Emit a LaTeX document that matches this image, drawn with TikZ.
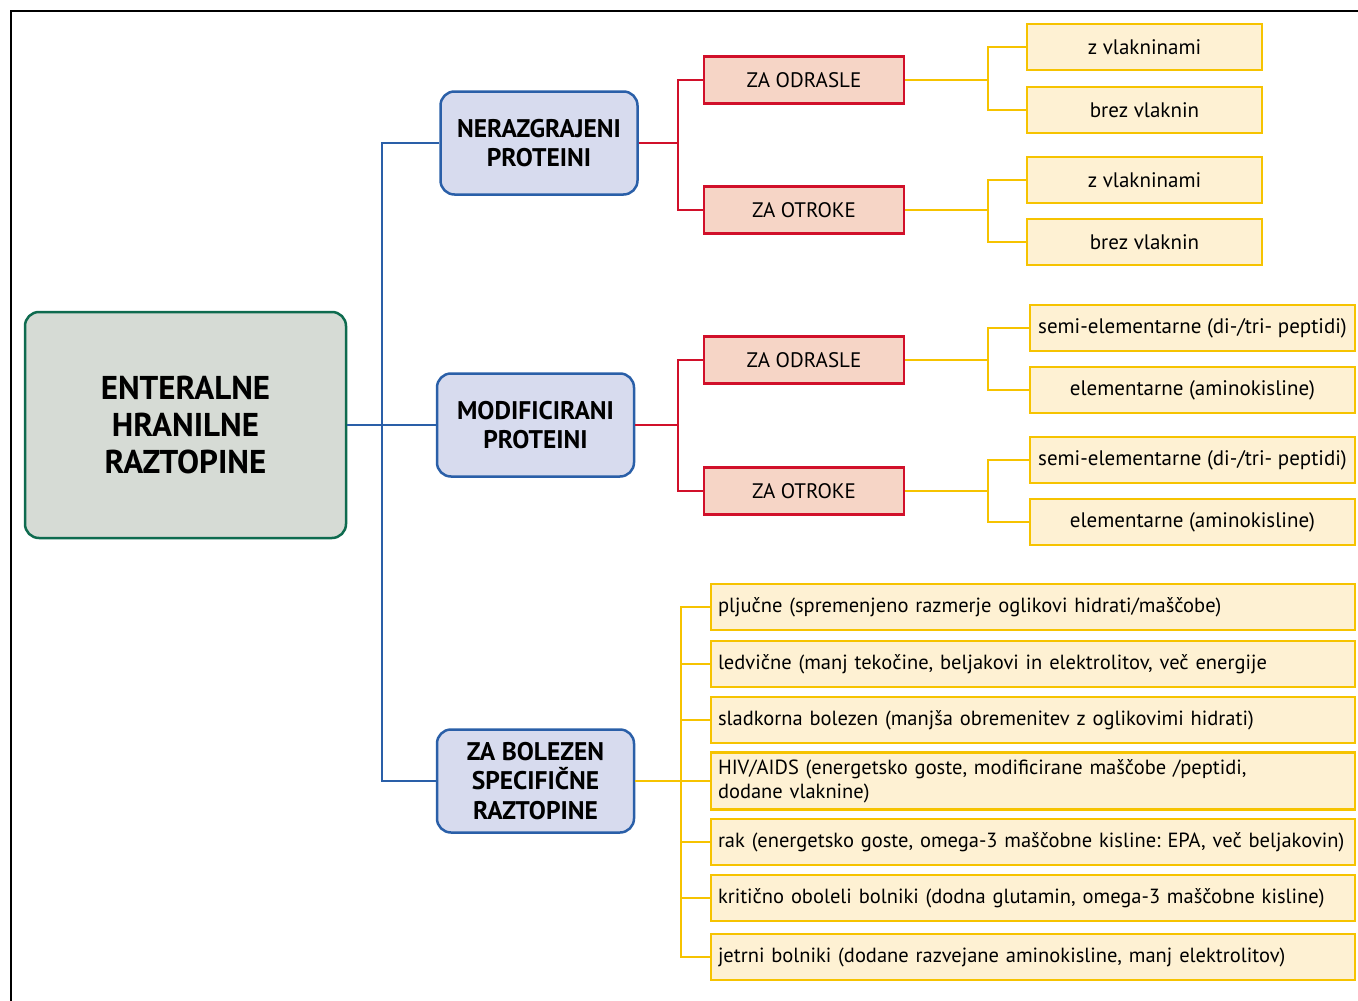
\documentclass[tikz,border=0pt]{standalone}
\usepackage{fontspec}
\setmainfont{PT Sans}
\usepackage{tikz}
\usetikzlibrary{calc}

\definecolor{rootfill}{HTML}{D6DBD5}
\definecolor{rootline}{HTML}{0E6B4F}
\definecolor{grpfill}{HTML}{D7DBEE}
\definecolor{grpline}{HTML}{2A5FA8}
\definecolor{agefill}{HTML}{F6D5C6}
\definecolor{ageline}{HTML}{D1102A}
\definecolor{kindfill}{HTML}{FEF1D3}
\definecolor{kindline}{HTML}{F6C300}

\begin{document}
\frenchspacing
\hyphenpenalty=10000
\begin{tikzpicture}[x=1pt, y=-1pt,
        root/.style={draw=rootline, fill=rootfill, line width=2.5pt, rounded corners=14pt, minimum width=321pt, minimum height=226pt, align=center, font=\fontsize{33}{37}\selectfont\bfseries},
        group/.style={draw=grpline, fill=grpfill, line width=2.5pt, rounded corners=14pt, minimum width=197pt, minimum height=103pt, align=center, font=\fontsize{25.5}{29.5}\selectfont\bfseries},
        age/.style={draw=ageline, fill=agefill, line width=2.5pt, minimum width=200pt, minimum height=47pt, font=\fontsize{21}{25}\selectfont},
        kind/.style={draw=kindline, fill=kindfill, line width=2.5pt, minimum height=46pt, font=\fontsize{21}{25}\selectfont},
        ill/.style={kind, text width=630pt, inner xsep=7pt, align=left, font=\fontsize{20.5}{24}\selectfont},
        bline/.style={draw=grpline, line width=2.5pt},
        rline/.style={draw=ageline, line width=2.5pt},
        yline/.style={draw=kindline, line width=2.5pt}]
        \useasboundingbox (0, 0) rectangle (1358, 1001);
        \draw [line width=2.5pt] (1358, 11) -- (11, 11) -- (11, 1001);

        % main box and the three groups
        \node (enteral) [root] at (185.5, 425) {ENTERALNE\\HRANILNE\\RAZTOPINE};
        \node (nerazg) [group] at (539, 143) {NERAZGRAJENI\\PROTEINI};
        \node (modif) [group] at (535.5, 425) {MODIFICIRANI\\PROTEINI};
        \node (bolez) [group] at (535.5, 781) {ZA BOLEZEN\\SPECIFIČNE\\RAZTOPINE};

        \coordinate (trunk) at (382, 425);
        \draw [bline] (enteral.east) -- (modif.west);
        \draw [bline] (trunk) |- (nerazg.west);
        \draw [bline] (trunk) |- (bolez.west);

        % nerazgrajeni proteini
        \node (ner odr) [age] at (804, 80) {ZA ODRASLE};
        \node (ner otr) [age] at (804, 210) {ZA OTROKE};
        \coordinate (ner j) at (678, 143);
        \draw [rline] (nerazg.east) -- (ner j) |- (ner odr.west);
        \draw [rline] (ner j) |- (ner otr.west);

        \node (odr z) [kind, minimum width=235pt] at (1144.5, 47) {z vlakninami};
        \node (odr brez) [kind, minimum width=235pt] at (1144.5, 110) {brez vlaknin};
        \coordinate (odr j) at (988, 80);
        \draw [yline] (ner odr.east) -- (odr j) |- (odr z.west);
        \draw [yline] (odr j) |- (odr brez.west);

        \node (otr z) [kind, minimum width=235pt] at (1144.5, 180) {z vlakninami};
        \node (otr brez) [kind, minimum width=235pt] at (1144.5, 242) {brez vlaknin};
        \coordinate (otr j) at (988, 210);
        \draw [yline] (ner otr.east) -- (otr j) |- (otr z.west);
        \draw [yline] (otr j) |- (otr brez.west);

        % modificirani proteini
        \node (mod odr) [age] at (804, 360) {ZA ODRASLE};
        \node (mod otr) [age] at (804, 491) {ZA OTROKE};
        \coordinate (mod j) at (678, 425);
        \draw [rline] (modif.east) -- (mod j) |- (mod odr.west);
        \draw [rline] (mod j) |- (mod otr.west);

        \node (modo semi) [kind, minimum width=325pt] at (1192.5, 328) {semi-elementarne (di-/tri- peptidi)};
        \node (modo elem) [kind, minimum width=325pt] at (1192.5, 390) {elementarne (aminokisline)};
        \coordinate (modo j) at (988, 360);
        \draw [yline] (mod odr.east) -- (modo j) |- (modo semi.west);
        \draw [yline] (modo j) |- (modo elem.west);

        \node (modt semi) [kind, minimum width=325pt] at (1192.5, 460) {semi-elementarne (di-/tri- peptidi)};
        \node (modt elem) [kind, minimum width=325pt] at (1192.5, 522) {elementarne (aminokisline)};
        \coordinate (modt j) at (988, 491);
        \draw [yline] (mod otr.east) -- (modt j) |- (modt semi.west);
        \draw [yline] (modt j) |- (modt elem.west);

        % za bolezen specificne raztopine
        \node (pljuc) [ill] at (1033, 607) {pljučne (spremenjeno razmerje oglikovi hidrati/maščobe)};
        \node (ledv) [ill] at (1033, 664) {ledvične (manj tekočine, beljakovi in elektrolitov, več energije};
        \node (sladk) [ill] at (1033, 720) {sladkorna bolezen (manjša obremenitev z oglikovimi hidrati)};
        \node (hiv) [ill, minimum height=57pt] at (1033, 781) {HIV/AIDS (energetsko goste, modificirane maščobe /peptidi,\\dodane vlaknine)};
        \node (rak) [ill] at (1033, 842) {rak (energetsko goste, omega-3 maščobne kisline: EPA, več beljakovin)};
        \node (krit) [ill] at (1033, 898) {kritično oboleli bolniki (dodna glutamin, omega-3 maščobne kisline)};
        \node (jetr) [ill] at (1033, 957) {jetrni bolniki (dodane razvejane aminokisline, manj elektrolitov)};
        \coordinate (bol j) at (681, 781);
        \draw [yline] (bolez.east) -- (hiv.west);
        \draw [yline] (bol j) |- (pljuc.west);
        \draw [yline] (bol j) |- (ledv.west);
        \draw [yline] (bol j) |- (sladk.west);
        \draw [yline] (bol j) |- (rak.west);
        \draw [yline] (bol j) |- (krit.west);
        \draw [yline] (bol j) |- (jetr.west);
\end{tikzpicture}
\end{document}
